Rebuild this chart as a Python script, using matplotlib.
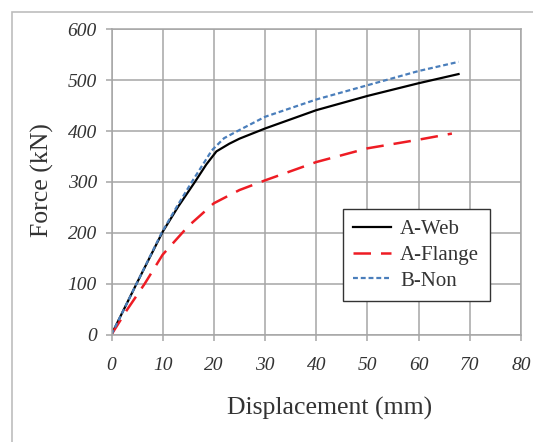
import matplotlib
matplotlib.use("Agg")
import matplotlib.pyplot as plt
from matplotlib.patches import Rectangle

web_x = [0, 5, 10, 13, 16.3, 18.5, 20.5, 23, 25, 30, 40, 50, 60, 67.8]
web_y = [0, 102, 202, 251, 300, 334, 360, 375, 385, 405, 441, 469, 494, 512]
flange_x = [0, 3, 6.5, 10, 15, 20, 25, 30, 40, 50, 60, 66.5]
flange_y = [0, 48, 100, 157, 213, 258, 284, 303, 339, 366, 383, 395]
non_x = [0, 5, 9.8, 12.8, 15.7, 19.6, 22, 25, 30, 40, 50, 60, 67.8]
non_y = [0, 102, 200, 252, 300, 362, 386, 402, 428, 462, 490, 518, 536]

xticks = [0, 10, 20, 30, 40, 50, 60, 70, 80]
yticks = [0, 100, 200, 300, 400, 500, 600]

W, H = 533, 442
fig = plt.figure(figsize=(W/100, H/100), dpi=100)
fig.patch.set_facecolor("white")
fig.add_artist(Rectangle((12/W, -0.01), 1.2, 1 - 11.5/H + 0.01, transform=fig.transFigure,
                         fill=False, edgecolor="#bdbdbd", linewidth=1.2))

L, R, T, B = 111.5, 521, 29.3, 334.5
ax = fig.add_axes([L/W, 1 - B/H, (R-L)/W, (B-T)/H])
ax.plot(web_x, web_y, color="black", lw=1.6, label="A-Web")
ax.plot(flange_x, flange_y, color="#ee1c24", lw=1.8, dashes=(7, 4), label="A-Flange")
ax.plot(non_x, non_y, color="#4a7ebb", lw=1.6, dashes=(2.2, 1.3), label="B-Non")

ax.set_xlim(0, 80)
ax.set_ylim(0, 600)
ax.set_xticks(xticks)
ax.set_yticks(yticks)
ax.grid(True, color="#a6a6a6", lw=1.1)
ax.set_axisbelow(True)
for s in ax.spines.values():
    s.set_color("#a6a6a6")
    s.set_linewidth(1.1)
ax.tick_params(colors="#a6a6a6", length=4, width=1.1, labelcolor="#333333")
for lab in ax.get_xticklabels() + ax.get_yticklabels():
    lab.set_fontfamily("Liberation Serif")
    lab.set_fontstyle("italic")
    lab.set_fontsize(14)
ax.tick_params(axis="x", pad=12.5)
ax.tick_params(axis="y", pad=6.5)

ax.set_xlabel("Displacement (mm)", family="Liberation Serif", fontsize=18.5, color="#333333")
ax.xaxis.set_label_coords((330 - L)/(R - L), -(408 - B)/(B - T))
ax.xaxis.label.set_va("center")
ax.set_ylabel("Force (kN)", family="Liberation Serif", fontsize=18.5, color="#333333")
ax.yaxis.set_label_coords((42 - L)/(R - L), (B - 180)/(B - T))
ax.yaxis.label.set_va("center")

leg = ax.legend(loc="upper left", bbox_to_anchor=((343-L)/(R-L), 1 - (209-T)/(B-T)),
                prop={"family": "Liberation Serif", "size": 15}, frameon=True, fancybox=False,
                handlelength=1.8, handletextpad=0.45, borderpad=0.5, labelspacing=0.3,
                borderaxespad=0)
leg.get_frame().set_edgecolor("#333333")
leg.get_frame().set_linewidth(1.0)
leg.get_frame().set_alpha(1)
for t in leg.get_texts():
    t.set_color("#333333")

fig.savefig("out.png", dpi=100)
